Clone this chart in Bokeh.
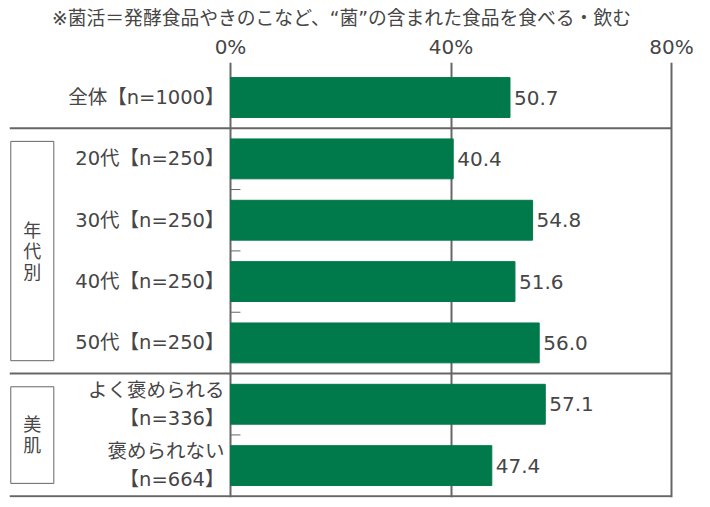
from bokeh.plotting import figure
from bokeh.models import Range1d, FixedTicker, ColumnDataSource
from bokeh.core.properties import value
from bokeh.embed import file_html
from bokeh.resources import INLINE

title_text = "※菌活＝発酵食品やきのこなど、“菌”の含まれた食品を食べる・飲む"
categories = ["全体【n=1000】", "20代【n=250】", "30代【n=250】", "40代【n=250】",
              "50代【n=250】", "よく褒められる\n【n=336】", "褒められない\n【n=664】"]
values = [50.7, 40.4, 54.8, 51.6, 56.0, 57.1, 47.4]
value_labels = ["50.7", "40.4", "54.8", "51.6", "56.0", "57.1", "47.4"]
x_ticks = [0, 40, 80]
tick_labels = ["0%", "40%", "80%"]
group_names = ["年代別", "美肌"]
group_rows = [(1, 4), (5, 6)]   # first and last row index of each group
separators = [0.5, 4.5, 6.5]
inner_ticks = [1.5, 2.5, 3.5, 5.5]

GREEN = "#007A4A"
TEXT = "#464646"
LINE = "#666666"
FONT_NAME = "DejaVu Sans, Noto Sans CJK JP"
FONT = value(FONT_NAME)

rows = list(range(len(categories)))

p = figure(width=710, height=507, output_backend="svg", toolbar_location=None,
           x_range=Range1d(-40.09, 80.36), y_range=Range1d(6.52, -0.571),
           x_axis_location="above", y_axis_location=None,
           min_border_left=9, min_border_right=37, min_border_bottom=10, min_border_top=62)
p.outline_line_color = None
p.background_fill_color = "white"

# top axis
ax = p.xaxis[0]
ax.ticker = FixedTicker(ticks=x_ticks)
ax.major_label_overrides = {t: l for t, l in zip(x_ticks, tick_labels)}
ax.axis_line_color = None
ax.major_tick_line_color = None
ax.major_tick_out = 0
ax.major_tick_in = 0
ax.minor_tick_line_color = None
ax.minor_tick_out = 0
ax.major_label_text_font = FONT_NAME
ax.major_label_text_font_size = "20px"
ax.major_label_text_color = TEXT
ax.major_label_standoff = 4

# title
p.title.text = title_text
p.title.align = "center"
p.title.offset = 30
p.title.standoff = 6
p.title.text_font = FONT_NAME
p.title.text_font_size = "18.8px"
p.title.text_font_style = "normal"
p.title.text_color = TEXT

# grids -> vertical lines at 0/40/80
p.xgrid.grid_line_color = LINE
p.xgrid.grid_line_width = 2
p.ygrid.grid_line_color = None

src = ColumnDataSource(dict(y=rows, v=values, lab=value_labels, cat=categories,
                            zero=[0] * len(rows)))

p.hbar(y="y", left=0, right="v", height=0.65, color=GREEN, source=src)

# horizontal separators
p.segment(x0=[-40.09] * len(separators), x1=[80] * len(separators), y0=separators, y1=separators,
          line_color=LINE, line_width=2)
# small ticks within groups
p.segment(x0=[0] * len(inner_ticks), x1=[1.8] * len(inner_ticks), y0=inner_ticks, y1=inner_ticks,
          line_color=LINE, line_width=1)

# value labels
p.text(x="v", y="y", text="lab", source=src, x_offset=4, text_align="left",
       text_baseline="middle", text_font=FONT, text_font_size="20px", text_color=TEXT)
# category labels
p.text(x="zero", y="y", text="cat", source=src, x_offset=-6, text_align="right",
       text_baseline="middle", text_font=FONT, text_font_size="19.5px", text_color=TEXT,
       text_line_height=1.2)

# group boxes
for name, (r0, r1) in zip(group_names, group_rows):
    top = r0 - 0.285
    bot = r1 + 0.29
    p.quad(left=-39.86, right=-32.05, top=top, bottom=bot, fill_color="white",
           line_color=LINE, line_width=1)
    n = len(name)
    cy = (top + bot) / 2
    p.text(x=[-35.95] * n, y=[cy] * n, text=list(name),
           y_offset=[(i - (n - 1) / 2) * 21 for i in range(n)],
           text_align="center", text_baseline="middle", text_font=FONT,
           text_font_size="18px", text_color=TEXT)

open("out.html", "w").write(file_html(p, INLINE))
